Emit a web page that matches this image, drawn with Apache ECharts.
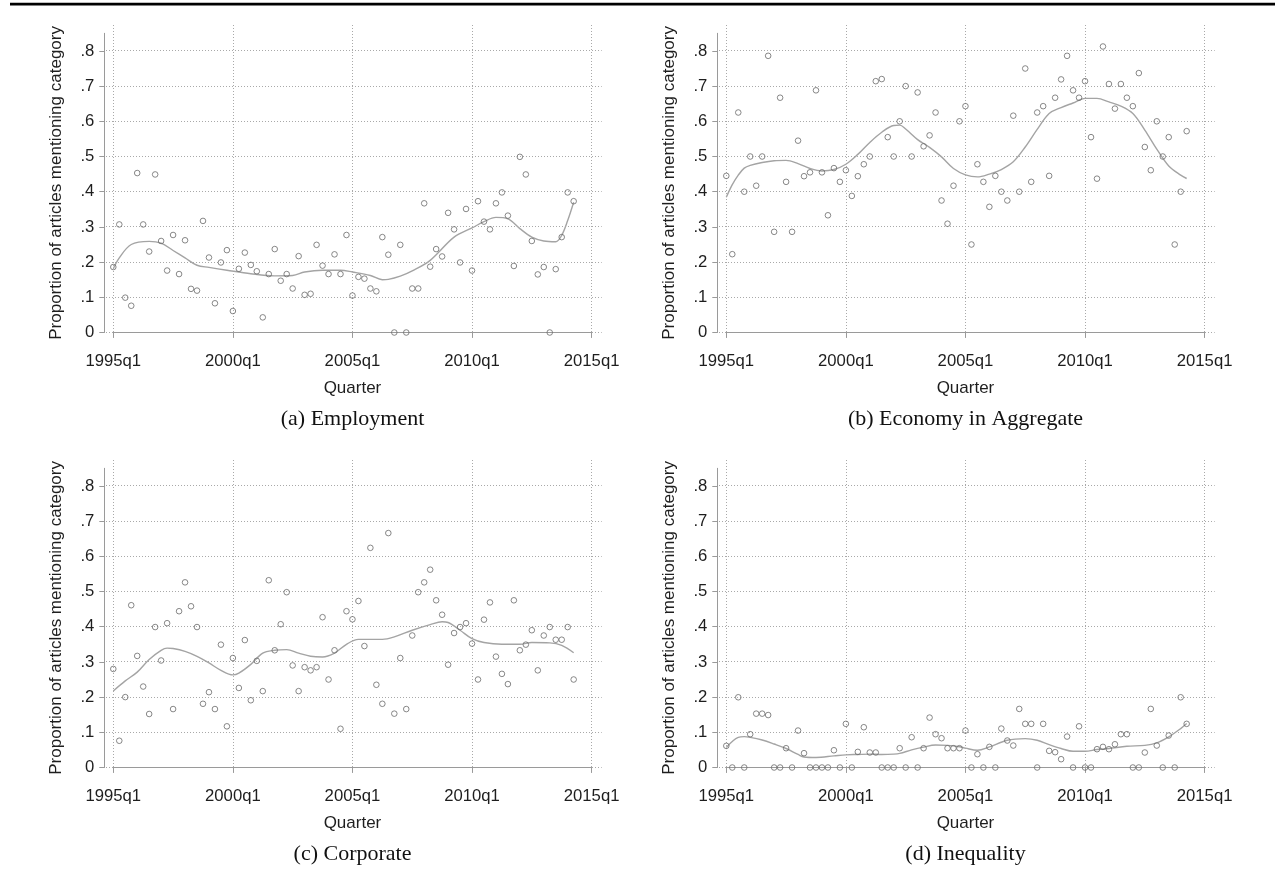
<!DOCTYPE html>
<html>
<head>
<meta charset="utf-8">
<script src="https://cdn.jsdelivr.net/npm/echarts@6/dist/echarts.min.js"></script>
<style>
html,body{margin:0;padding:0;background:#fff;}
#chart{width:1284px;height:882px;}
</style>
</head>
<body>
<div id="chart"></div>
<script>
// ---- data (quarters 1995q1 .. 2014q2, index 0..77) ----
var firstYear = 1995;
var nQuarters = 78;
var xTickValues = [1995, 2000, 2005, 2010, 2015];
var yTickValues = [0, 0.1, 0.2, 0.3, 0.4, 0.5, 0.6, 0.7, 0.8];
var panelTitles = ['(a) Employment', '(b) Economy in Aggregate', '(c) Corporate', '(d) Inequality'];
var yAxisTitle = 'Proportion of articles mentioning category';
var xAxisTitle = 'Quarter';

var employment = [0.186,0.307,0.099,0.076,0.453,0.307,0.230,0.449,0.260,0.176,
  0.277,0.166,0.262,0.124,0.119,0.317,0.213,0.083,0.199,0.234,
  0.061,0.181,0.227,0.192,0.174,0.043,0.166,0.237,0.147,0.166,
  0.125,0.217,0.107,0.110,0.249,0.190,0.166,0.222,0.166,0.277,
  0.105,0.158,0.153,0.125,0.117,0.271,0.221,0,0.249,0,
  0.125,0.125,0.367,0.187,0.237,0.216,0.340,0.293,0.199,0.351,
  0.176,0.373,0.315,0.293,0.367,0.398,0.332,0.189,0.499,0.449,
  0.260,0.165,0.186,0,0.180,0.271,0.398,0.373];
var economy = [0.445,0.2225,0.625,0.400,0.500,0.417,0.500,0.786,0.286,0.667,
  0.428,0.286,0.545,0.444,0.455,0.688,0.455,0.333,0.467,0.428,
  0.461,0.388,0.444,0.478,0.500,0.714,0.720,0.555,0.500,0.600,
  0.700,0.500,0.682,0.529,0.560,0.625,0.375,0.309,0.417,0.600,
  0.643,0.250,0.478,0.428,0.357,0.445,0.400,0.375,0.616,0.400,
  0.750,0.428,0.625,0.643,0.445,0.667,0.719,0.786,0.688,0.667,
  0.714,0.555,0.437,0.8125,0.706,0.636,0.706,0.667,0.643,0.737,
  0.527,0.461,0.600,0.500,0.555,0.250,0.400,0.572];
var corporate = [0.280,0.076,0.200,0.461,0.317,0.230,0.152,0.399,0.304,0.410,
  0.166,0.444,0.526,0.458,0.399,0.181,0.214,0.166,0.349,0.117,
  0.311,0.226,0.362,0.191,0.303,0.217,0.532,0.333,0.407,0.498,
  0.290,0.217,0.285,0.276,0.285,0.427,0.250,0.333,0.110,0.444,
  0.421,0.473,0.345,0.624,0.235,0.181,0.666,0.153,0.311,0.166,
  0.375,0.498,0.526,0.562,0.475,0.434,0.292,0.382,0.399,0.410,
  0.352,0.250,0.420,0.469,0.315,0.266,0.237,0.475,0.333,0.349,
  0.390,0.276,0.375,0.399,0.363,0.363,0.399,0.250];
var inequality = [0.0615,0,0.1995,0,0.0946,0.153,0.153,0.149,0,0,
  0.0548,0,0.105,0.0407,0,0,0,0,0.049,0,
  0.124,0,0.0444,0.1144,0.0426,0.0426,0,0,0,0.0548,
  0,0.086,0,0.0548,0.1418,0.0946,0.0832,0.0548,0.0548,0.0548,
  0.105,0,0.0378,0,0.0586,0,0.1106,0.0766,0.0624,0.1664,
  0.124,0.124,0,0.124,0.0473,0.0435,0.0236,0.0879,0,0.117,
  0,0,0.052,0.0586,0.052,0.066,0.0946,0.0946,0,0,
  0.0426,0.1664,0.0624,0,0.0908,0,0.1995,0.124];

// smoothed trend lines: quarter index and value
var employmentTrendQ = [0,1,3,6,8,10,12,14,16,19,23,27,30,32,35,38,40,43,45,46,48,50,53,57,60,62,64,66,68,70,72,74,75,76,77];
var employmentTrendV = [0.181,0.212,0.250,0.259,0.254,0.233,0.212,0.191,0.185,0.177,0.167,0.161,0.162,0.172,0.177,0.177,0.172,0.162,0.150,0.151,0.160,0.175,0.205,0.271,0.297,0.315,0.327,0.323,0.295,0.271,0.260,0.258,0.276,0.318,0.370];
var economyTrendQ = [0,1,2,3,4,6,8,10,12,14,16,18,20,22,24,26,28,29,30,32,34,36,38,40,42,44,46,48,50,52,54,56,58,60,62,64,66,68,70,72,74,76,77];
var economyTrendV = [0.384,0.420,0.447,0.467,0.475,0.483,0.488,0.489,0.480,0.466,0.459,0.463,0.478,0.506,0.540,0.569,0.588,0.589,0.578,0.548,0.526,0.499,0.466,0.448,0.442,0.450,0.463,0.485,0.527,0.577,0.622,0.639,0.652,0.665,0.665,0.655,0.643,0.622,0.575,0.521,0.473,0.447,0.4375];
var corporateTrendQ = [0,2,4,6,8,9,10,12,14,16,18,20,21,23,25,27,29,31,33,35,37,39,41,43,45,47,50,53,55,56,58,60,62,65,68,70,73,75,77];
var corporateTrendV = [0.2175,0.246,0.271,0.307,0.333,0.339,0.338,0.330,0.316,0.297,0.276,0.263,0.268,0.293,0.325,0.333,0.335,0.325,0.316,0.314,0.325,0.350,0.364,0.364,0.364,0.371,0.390,0.406,0.414,0.412,0.390,0.366,0.355,0.350,0.350,0.355,0.354,0.347,0.326];
var inequalityTrendQ = [0,2,3,4,6,8,10,12,13,15,18,20,22,24,26,28,29,31,33,35,37,39,40,42,44,47,50,52,54,56,58,60,62,64,67,70,72,74,76,77];
var inequalityTrendV = [0.057,0.0857,0.0876,0.0857,0.078,0.0667,0.054,0.037,0.030,0.0286,0.033,0.036,0.037,0.038,0.037,0.038,0.040,0.050,0.058,0.064,0.063,0.059,0.055,0.049,0.0586,0.0775,0.082,0.0775,0.065,0.054,0.046,0.046,0.051,0.054,0.0605,0.063,0.070,0.087,0.1106,0.125];

var panelValues = [employment, economy, corporate, inequality];
var panelTrendQ = [employmentTrendQ, economyTrendQ, corporateTrendQ, inequalityTrendQ];
var panelTrendV = [employmentTrendV, economyTrendV, corporateTrendV, inequalityTrendV];

// ---- layout ----
var DX = [0, 613, 0, 613];
var DY = [0, 0, 435, 435];
var FONT = "'Liberation Sans', Arial, Helvetica, sans-serif";
var TEXT = '#1e1e1e';
var AXIS = '#9a9a9a';
var GRIDC = '#a9a9a9';

function qx(i) { return firstYear + i / 4; }
function yFmt(v) { return v === 0 ? '0' : '.' + Math.round(v * 10); }

var grids = [], xAxes = [], yAxes = [], series = [], graphics = [];

graphics.push({type: 'rect', shape: {x: 10, y: 2.8, width: 1265, height: 2.6}, style: {fill: '#000'}, silent: true});

for (var p = 0; p < 4; p++) {
  var dx = DX[p], dy = DY[p];
  // grid for horizontal dotted grid lines
  var gH = grids.length;
  grids.push({left: 106 + dx, top: 50.7 + dy, width: 495.7, height: 281.6});
  xAxes.push({gridIndex: gH, type: 'value', min: 0, max: 1, show: false});
  yAxes.push({gridIndex: gH, type: 'value', min: 0, max: 0.8, interval: 0.1,
    axisLine: {show: false}, axisTick: {show: false}, axisLabel: {show: false},
    splitLine: {show: true, lineStyle: {color: GRIDC, width: 1, type: [1, 2]}}});
  // grid for vertical dotted grid lines
  var gV = grids.length;
  grids.push({left: 113.3 + dx, top: 25 + dy, width: 478.3, height: 313});
  xAxes.push({gridIndex: gV, type: 'value', min: 1995, max: 2015, interval: 5,
    axisLine: {show: false}, axisTick: {show: false}, axisLabel: {show: false},
    splitLine: {show: true, lineStyle: {color: GRIDC, width: 1, type: [1, 2]}}});
  yAxes.push({gridIndex: gV, type: 'value', min: 0, max: 1, show: false});
  // data grid with axes
  var gD = grids.length;
  grids.push({left: 113.3 + dx, top: 33.3 + dy, width: 478.3, height: 299.2});
  xAxes.push({gridIndex: gD, type: 'value', min: 1995, max: 2015, interval: 5,
    offset: 10,
    name: xAxisTitle, nameLocation: 'middle', nameGap: 37,
    nameTextStyle: {fontFamily: FONT, fontSize: 17, color: TEXT},
    axisLine: {show: true, lineStyle: {color: AXIS, width: 1}},
    axisTick: {show: true, length: 5, lineStyle: {color: AXIS, width: 1}},
    axisLabel: {show: true, margin: 10, fontFamily: FONT, fontSize: 16.7, color: TEXT,
      formatter: function (v) { return Math.round(v) + 'q1'; }},
    splitLine: {show: false}});
  yAxes.push({gridIndex: gD, type: 'value', min: 0, max: 0.85, position: 'left',
    offset: 9,
    name: yAxisTitle, nameLocation: 'middle', nameGap: 39.5,
    nameTextStyle: {fontFamily: FONT, fontSize: 17, color: TEXT},
    axisLine: {show: true, lineStyle: {color: AXIS, width: 1}},
    axisTick: {show: true, length: 5, customValues: yTickValues, lineStyle: {color: AXIS, width: 1}},
    axisLabel: {show: true, margin: 10, fontFamily: FONT, fontSize: 16.7, color: TEXT,
      customValues: yTickValues, formatter: yFmt},
    splitLine: {show: false}});

  var vals = panelValues[p];
  var pts = [];
  for (var i = 0; i < vals.length; i++) pts.push([qx(i), vals[i]]);
  var tq = panelTrendQ[p], tv = panelTrendV[p];
  var trend = [];
  for (var k = 0; k < tq.length; k++) trend.push([qx(tq[k]), tv[k]]);

  series.push({type: 'line', xAxisIndex: gD, yAxisIndex: gD, data: trend,
    smooth: 0.35, showSymbol: false, symbol: 'none',
    lineStyle: {color: '#a4a4a4', width: 1.4}, silent: true, z: 2});
  series.push({type: 'scatter', xAxisIndex: gD, yAxisIndex: gD, data: pts,
    symbol: 'circle', symbolSize: 5.6,
    itemStyle: {color: 'rgba(255,255,255,0)', borderColor: '#6a6a6a', borderWidth: 1},
    silent: true, z: 3});

  graphics.push({type: 'text', x: 352.5 + dx, y: 419 + dy,
    style: {text: panelTitles[p], font: "22px 'Liberation Serif', 'Times New Roman', serif",
      fill: '#111', textAlign: 'center', textVerticalAlign: 'middle'}, silent: true});
}

var chart = echarts.init(document.getElementById('chart'), null, {renderer: 'canvas'});
chart.setOption({
  animation: false,
  backgroundColor: '#fff',
  grid: grids,
  xAxis: xAxes,
  yAxis: yAxes,
  series: series,
  graphic: graphics
});
</script>
</body>
</html>
